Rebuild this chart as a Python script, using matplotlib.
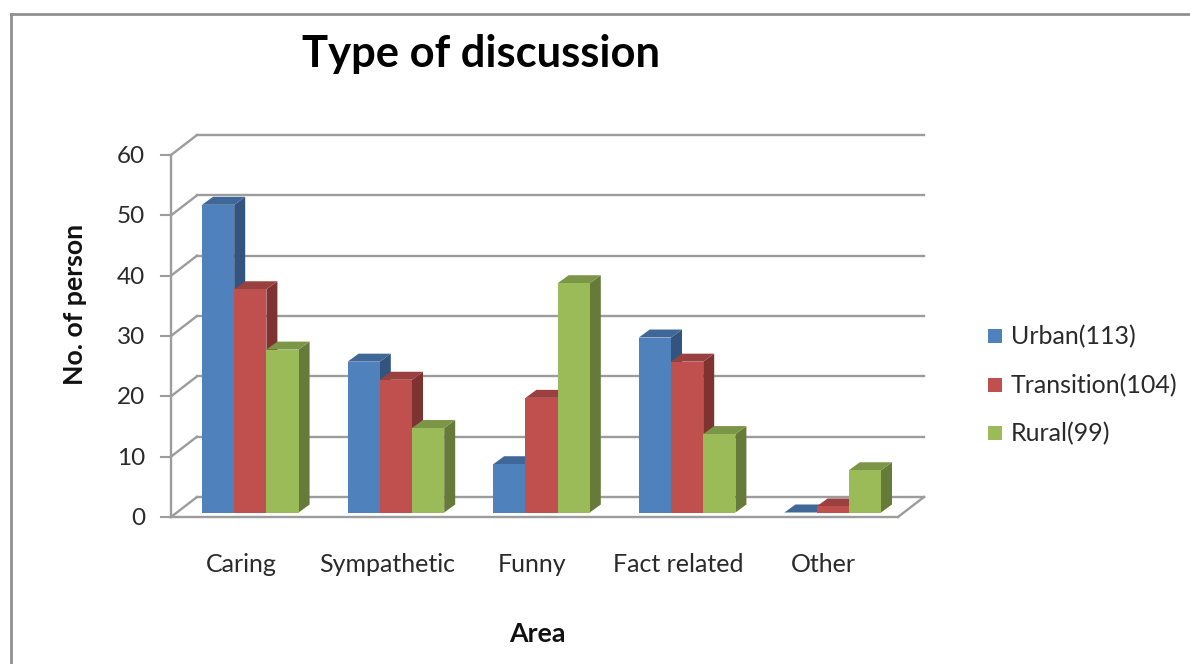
import matplotlib
matplotlib.use("Agg")
import matplotlib.pyplot as plt
from matplotlib.patches import Polygon, Rectangle

categories = ["Caring", "Sympathetic", "Funny", "Fact related", "Other"]
series_names = ["Urban(113)", "Transition(104)", "Rural(99)"]
urban = [51, 25, 8, 29, 0]
transition = [37, 22, 19, 25, 1]
rural = [27, 14, 38, 13, 7]
y_ticks = [0, 10, 20, 30, 40, 50, 60]

W, H = 1190, 664
plt.rcParams['font.family'] = ['Lato', 'DejaVu Sans']
fig = plt.figure(figsize=(W / 100, H / 100), dpi=100, facecolor='white')

# front plane of the pseudo-3D box
L, R, T, B = 171, 898, 155, 517
ax = fig.add_axes([L / W, 1 - B / H, (R - L) / W, (B - T) / H])
ax.set_xlim(0, 5)
ax.set_ylim(0, 60)
ax.axis('off')
px = 5 / (R - L)
py = 60 / (B - T)
DX, DY = 26 * px, 20 * py          # wall depth
BDX, BDY = 11 * px, 8 * py         # bar depth
base = 4.5 * py                    # bars stand slightly behind the front edge
bw = 32.2 * px
first = 31 * px
step = 145.6 * px

grid = '#9c9c9c'
for v in y_ticks:
    ax.plot([0, DX], [v, v + DY], color=grid, lw=1.7, clip_on=False, zorder=1)
    ax.plot([DX, 5 + DX], [v + DY, v + DY], color=grid, lw=1.7, clip_on=False, zorder=1)
    ax.plot([-10 * px, 0], [v, v], color=grid, lw=1.5, clip_on=False, zorder=1)
    ax.text(-26 * px, v - 1.5 * py, str(v), ha='right', va='center', fontsize=17.5, color='#2a2a2a')
ax.plot([0, 0], [0, 60], color=grid, lw=1.7, clip_on=False, zorder=1)
ax.plot([0, 5], [0, 0], color=grid, lw=1.7, clip_on=False, zorder=1)
ax.plot([5, 5 + DX], [0, DY], color=grid, lw=1.7, clip_on=False, zorder=1)

styles = [('#4f81bd', '#3f6797', '#345480'),
          ('#c0504d', '#9a403e', '#7f3331'),
          ('#9bbb59', '#7c9647', '#667b3a')]
series = [urban, transition, rural]
z = 3
for i, cat in enumerate(categories):
    for s, vals in enumerate(series):
        v = vals[i]
        x0 = first + i * step + s * bw
        x1 = x0 + bw
        y0, y1 = base, base + v
        front, top, side = styles[s]
        ax.add_patch(Polygon([(x1, y0), (x1 + BDX, y0 + BDY), (x1 + BDX, y1 + BDY), (x1, y1)],
                             fc=side, ec='none', clip_on=False, zorder=z))
        ax.add_patch(Polygon([(x0, y1), (x0 + BDX, y1 + BDY), (x1 + BDX, y1 + BDY), (x1, y1)],
                             fc=top, ec='none', clip_on=False, zorder=z))
        ax.add_patch(Rectangle((x0, y0), bw, v, fc=front, ec='none', clip_on=False, zorder=z + 0.5))
        z += 1
    ax.text(first + i * step + 1.5 * bw - 9 * px, -7.8, cat, ha='center', va='center',
            fontsize=18, color='#2a2a2a')

# figure-level text and frame, positioned in pixels
def fx(p): return p / W
def fy(p): return 1 - p / H

fig.add_artist(plt.Line2D([fx(11), fx(11)], [fy(14), fy(664)], color='#909090', lw=2))
fig.add_artist(plt.Line2D([fx(11), fx(1190)], [fy(14), fy(14)], color='#909090', lw=2))
fig.text(fx(481), fy(54), "Type of discussion", ha='center', va='center',
         fontsize=31.3, fontweight='bold', color='#000000')
fig.text(fx(75), fy(304), "No. of person", rotation=90, ha='center', va='center',
         fontsize=19.3, fontweight='bold', color='#111111')
fig.text(fx(537), fy(634), "Area", ha='center', va='center',
         fontsize=19.3, fontweight='bold', color='#111111')

for name, st, yp in zip(series_names, styles, [336, 385, 433]):
    fig.add_artist(Rectangle((fx(988), fy(yp + 7)), 14 / W, 14 / H, fc=st[0], ec='none',
                             transform=fig.transFigure))
    fig.text(fx(1011), fy(yp + 1), name, ha='left', va='center', fontsize=18, color='#2a2a2a')

fig.savefig('out.png', dpi=100)
